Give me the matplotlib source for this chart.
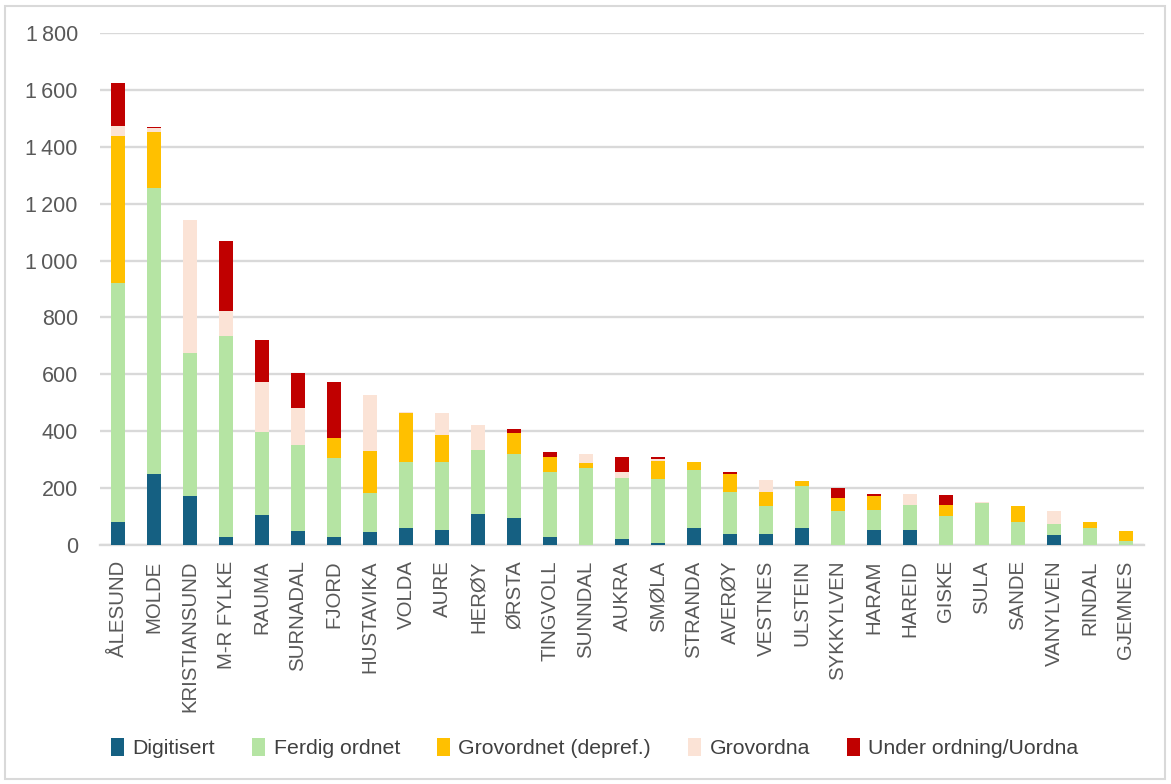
import matplotlib
matplotlib.use("Agg")
import matplotlib.pyplot as plt
import numpy as np
from matplotlib.patches import Rectangle
from matplotlib.ticker import FuncFormatter

plt.rcParams['font.family'] = ['Liberation Sans', 'DejaVu Sans']

categories = ["ÅLESUND", "MOLDE", "KRISTIANSUND", "M-R FYLKE", "RAUMA", "SURNADAL",
              "FJORD", "HUSTAVIKA", "VOLDA", "AURE", "HERØY", "ØRSTA", "TINGVOLL",
              "SUNNDAL", "AUKRA", "SMØLA", "STRANDA", "AVERØY", "VESTNES", "ULSTEIN",
              "SYKKYLVEN", "HARAM", "HAREID", "GISKE", "SULA", "SANDE", "VANYLVEN",
              "RINDAL", "GJEMNES"]

digitisert = [80, 248, 173, 29, 104, 48, 29, 44, 61, 52, 109, 94, 29, 0, 20, 7, 61, 39,
              39, 60, 0, 51, 51, 0, 0, 0, 36, 0, 0]
ferdig_ordnet = [840, 1006, 503, 707, 295, 305, 278, 138, 230, 239, 225, 226, 227, 270,
                 217, 225, 203, 147, 97, 146, 119, 73, 91, 101, 146, 82, 37, 60, 14]
grovordnet_depref = [517, 198, 0, 0, 0, 0, 68, 148, 172, 94, 0, 74, 55, 18, 0, 65, 29,
                     64, 50, 20, 46, 50, 0, 41, 0, 54, 0, 22, 35]
grovordna = [37, 13, 466, 87, 174, 128, 0, 198, 5, 78, 88, 0, 0, 32, 18, 6, 0, 0, 42,
             0, 0, 0, 37, 0, 5, 0, 46, 0, 0]
under_ordning = [149, 5, 0, 245, 149, 125, 198, 0, 0, 0, 0, 14, 15, 0, 56, 6, 0, 6, 0,
                 0, 37, 5, 0, 33, 0, 0, 0, 0, 0]

series_names = ["Digitisert", "Ferdig ordnet", "Grovordnet (depref.)", "Grovordna",
                "Under ordning/Uordna"]
series_colors = ["#156082", "#B5E4A3", "#FFC000", "#FBE3D6", "#C00000"]
series_values = [digitisert, ferdig_ordnet, grovordnet_depref, grovordna, under_ordning]

fig = plt.figure(figsize=(11.71, 7.84), dpi=100)
ax = fig.add_axes([100 / 1171, 1 - 545 / 784, 1044 / 1171, 512 / 784])

x = np.arange(len(categories))
bottom = np.zeros(len(categories))
handles = []
for name, color, vals in zip(series_names, series_colors, series_values):
    v = np.array(vals, dtype=float)
    h = ax.bar(x, v, bottom=bottom, width=0.40, color=color, label=name, zorder=3,
               edgecolor=color, linewidth=0)
    handles.append(h)
    bottom += v

ax.set_xlim(-0.5, len(categories) - 0.5)
ax.set_ylim(0, 1800)
ax.set_yticks(np.arange(0, 1801, 200))
ax.yaxis.set_major_formatter(FuncFormatter(
    lambda v, p: f"{int(v):,}".replace(",", "\u2009")))
ax.grid(axis='y', color='#D9D9D9', linewidth=1.7, zorder=0)
for s in ['top', 'right', 'left']:
    ax.spines[s].set_visible(False)
ax.spines['bottom'].set_color('#D9D9D9')
ax.spines['bottom'].set_linewidth(1.7)

ax.set_xticks(x)
ax.set_xticklabels(categories, rotation=90, ha='center', va='top')
ax.tick_params(axis='x', length=0, pad=11, labelsize=14.7, labelcolor='#595959')
ax.tick_params(axis='y', length=0, pad=16, labelsize=15.5, labelcolor='#595959')

leg = fig.legend(handles=handles, labels=series_names, loc='center',
                 bbox_to_anchor=(595 / 1171, 1 - 748 / 784), ncol=5, frameon=False,
                 fontsize=15.3, handlelength=0.6, handleheight=0.9, handletextpad=0.4,
                 columnspacing=1.75, labelcolor='#404040')

fig.patches.append(Rectangle((5 / 1171, 5 / 784), 1160 / 1171, 773 / 784,
                             transform=fig.transFigure, fill=False,
                             edgecolor='#D9D9D9', linewidth=1.5))

fig.savefig("out.png", dpi=100, facecolor='white')
